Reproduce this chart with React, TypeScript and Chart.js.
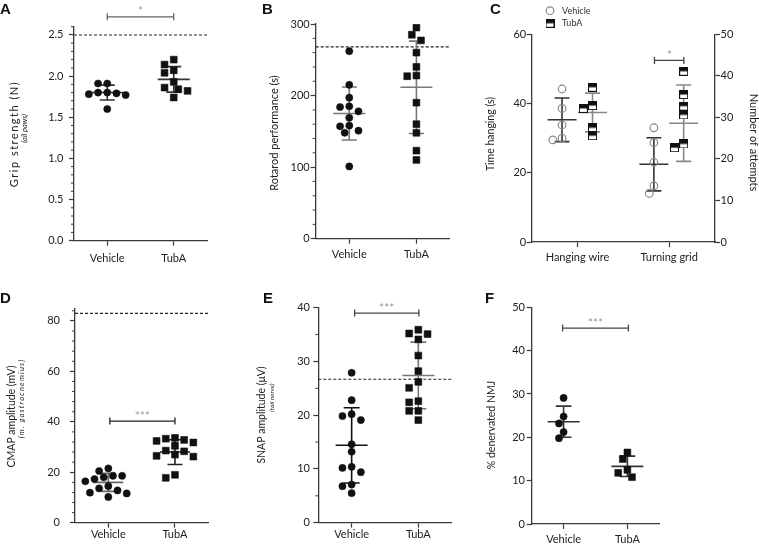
import React, { useEffect, useRef } from "react";
import { Chart, registerables } from "chart.js";

Chart.register(...registerables);

const W = 759;
const H = 544;
const FONT = "Lato, 'Open Sans', 'DejaVu Sans', sans-serif";
const AX = "#3a3a3a";
const TXT = "#222";

// ---------- Panel A: grip strength ----------
const A_CATS = ["Vehicle", "TubA"];
const A_TICKS = [0, 0.5, 1, 1.5, 2, 2.5];
const A_TICK_LABELS = ["0.0", "0.5", "1.0", "1.5", "2.0", "2.5"];
const A_VEHICLE = [1.91, 1.91, 1.8, 1.79, 1.78, 1.8, 1.77, 1.6];
const A_TUBA = [2.2, 2.14, 2.07, 2.04, 1.93, 1.84, 1.86, 1.82, 1.74];
const A_MEANS = [1.8, 1.96];
const A_SDS = [0.09, 0.155];
const A_REF = 2.5;
const A_SIG = 2.72;

// ---------- Panel B: rotarod ----------
const B_CATS = ["Vehicle", "TubA"];
const B_TICKS = [0, 100, 200, 300];
const B_TICK_LABELS = ["0", "100", "200", "300"];
const B_VEHICLE = [262, 215, 197, 184, 185, 178, 169, 158, 157, 148, 151, 101];
const B_TUBA = [295, 285, 277, 260, 240, 228, 227, 190, 160, 148, 123, 110];
const B_MEANS = [175, 211.6];
const B_SDS = [37, 64.5];
const B_REF = 268;

// ---------- Panel C: hanging wire / turning grid ----------
const C_CATS = ["Hanging wire", "Turning grid"];
const C_TICKS = [0, 20, 40, 60];
const C_TICK_LABELS = ["0", "20", "40", "60"];
const C_TICKS_RIGHT = [0, 10, 20, 30, 40, 50];
const C_TICK_LABELS_RIGHT = ["0", "10", "20", "30", "40", "50"];
const C_HW_VEHICLE = [44.2, 38.6, 33.8, 29.5, 30.0];
const C_HW_TUBA = [44.7, 39.4, 38.6, 33.0, 30.7];
const C_TG_VEHICLE = [27.5, 23.9, 19.2, 13.5, 11.7];
const C_TG_TUBA = [41.1, 35.5, 32.7, 30.6, 22.7, 23.6];
const C_HW_MEANS = [35.3, 37.4];
const C_HW_SDS = [6.3, 5.6];
const C_TG_MEANS = [18.7, 28.6];
const C_TG_SDS = [6.4, 9.2];
const C_SIG = 43.7;

// ---------- Panel D: CMAP ----------
const D_CATS = ["Vehicle", "TubA"];
const D_TICKS = [0, 20, 40, 60, 80];
const D_TICK_LABELS = ["0", "20", "40", "60", "80"];
const D_VEHICLE = [21.5, 20.5, 18.0, 18.6, 18.6, 16.4, 17.3, 13.6, 14.5, 12.8, 11.9, 11.6, 10.2];
const D_TUBA = [33.6, 33.3, 32.8, 32.4, 31.8, 30.5, 28.6, 28.3, 27.0, 26.5, 26.2, 19.0, 17.8];
const D_MEANS = [16.0, 28.0];
const D_SDS = [3.6, 4.9];
const D_REF = 83;
const D_SIG = 40.3;

// ---------- Panel E: SNAP ----------
const E_CATS = ["Vehicle", "TubA"];
const E_TICKS = [0, 10, 20, 30, 40];
const E_TICK_LABELS = ["0", "10", "20", "30", "40"];
const E_VEHICLE = [27.9, 22.8, 19.85, 20.2, 19.1, 14.6, 13.2, 10.2, 10.4, 9.4, 7.1, 6.8, 5.5];
const E_TUBA = [35.9, 35.1, 35.2, 34.1, 31.1, 28.2, 26.2, 25.1, 22.6, 22.4, 20.8, 20.8, 19.1];
const E_MEANS = [14.4, 27.4];
const E_SDS = [7.0, 6.2];
const E_REF = 26.7;
const E_SIG = 39;

// ---------- Panel F: denervated NMJ ----------
const F_CATS = ["Vehicle", "TubA"];
const F_TICKS = [0, 10, 20, 30, 40, 50];
const F_TICK_LABELS = ["0", "10", "20", "30", "40", "50"];
const F_VEHICLE = [29.1, 24.8, 23.2, 21.2, 19.8];
const F_TUBA = [16.5, 15.0, 12.5, 11.8, 10.8];
const F_MEANS = [23.6, 13.3];
const F_SDS = [3.6, 2.35];
const F_SIG = 45.2;

type Marker = "dot" | "square" | "ring" | "half";
interface Group {
  cat: number;
  shift: number;
  values: number[];
  mean: number;
  sd: number;
  marker: Marker;
  axis: "y" | "y1";
  bar: string;
}
interface AxisSpec {
  min: number;
  max: number;
  ticks: number[];
  labels: string[];
  minor?: number;
  pad: number;
}
interface Title {
  text: string;
  x: number;
  y: number;
  rot: number;
  size: number;
  italic?: boolean;
  spacing?: number;
}
interface Spec {
  letter: [string, number, number];
  area: { l: number; r: number; t: number; b: number };
  cats: string[];
  xPad: number;
  y: AxisSpec;
  y1?: AxisSpec;
  groups: Group[];
  meanHalf: number;
  capHalf: number;
  ref?: number;
  sig?: { x1: number; x2: number; s1: number; s2: number; v: number; axis: "y" | "y1"; text: string; color: string };
  titles: Title[];
  legend?: boolean;
}

const SPECS: Spec[] = [
  {
    letter: ["A", 0, 13.5],
    area: { l: 74, r: 207, t: 26.7, b: 240.7 },
    cats: A_CATS,
    xPad: 6,
    y: { min: 0, max: 2.6, ticks: A_TICKS, labels: A_TICK_LABELS, minor: 0.1, pad: 5.5 },
    groups: [
      { cat: 1, shift: 0, values: A_VEHICLE, mean: A_MEANS[0], sd: A_SDS[0], marker: "dot", axis: "y", bar: "#333" },
      { cat: 2, shift: 0, values: A_TUBA, mean: A_MEANS[1], sd: A_SDS[1], marker: "square", axis: "y", bar: "#333" },
    ],
    meanHalf: 16,
    capHalf: 7.5,
    ref: A_REF,
    sig: { x1: 1, x2: 2, s1: 0, s2: 0, v: A_SIG, axis: "y", text: "*", color: "#666" },
    titles: [
      { text: "Grip strength (N)", x: 14.5, y: 134, rot: -90, size: 11, spacing: 1.5 },
      { text: "(all paws)", x: 24.5, y: 128.3, rot: -90, size: 7.5, italic: true },
    ],
  },
  {
    letter: ["B", 262, 13.5],
    area: { l: 315.7, r: 450, t: 24, b: 238.7 },
    cats: B_CATS,
    xPad: 4.5,
    y: { min: 0, max: 300, ticks: B_TICKS, labels: B_TICK_LABELS, minor: 20, pad: 1 },
    groups: [
      { cat: 1, shift: 0, values: B_VEHICLE, mean: B_MEANS[0], sd: B_SDS[0], marker: "dot", axis: "y", bar: "#777" },
      { cat: 2, shift: 0, values: B_TUBA, mean: B_MEANS[1], sd: B_SDS[1], marker: "square", axis: "y", bar: "#777" },
    ],
    meanHalf: 16,
    capHalf: 7.5,
    ref: B_REF,
    titles: [{ text: "Rotarod performance (s)", x: 274.5, y: 133, rot: -90, size: 11 }],
  },
  {
    letter: ["C", 490, 13.5],
    area: { l: 531.7, r: 715, t: 34.3, b: 242 },
    cats: C_CATS,
    xPad: 4,
    y: { min: 0, max: 60, ticks: C_TICKS, labels: C_TICK_LABELS, pad: 0.5 },
    y1: { min: 0, max: 50, ticks: C_TICKS_RIGHT, labels: C_TICK_LABELS_RIGHT, pad: 0.5 },
    groups: [
      { cat: 1, shift: -15.5, values: C_HW_VEHICLE, mean: C_HW_MEANS[0], sd: C_HW_SDS[0], marker: "ring", axis: "y", bar: "#333" },
      { cat: 1, shift: 15, values: C_HW_TUBA, mean: C_HW_MEANS[1], sd: C_HW_SDS[1], marker: "half", axis: "y", bar: "#888" },
      { cat: 2, shift: -15.3, values: C_TG_VEHICLE, mean: C_TG_MEANS[0], sd: C_TG_SDS[0], marker: "ring", axis: "y1", bar: "#333" },
      { cat: 2, shift: 14.5, values: C_TG_TUBA, mean: C_TG_MEANS[1], sd: C_TG_SDS[1], marker: "half", axis: "y1", bar: "#888" },
    ],
    meanHalf: 14.5,
    capHalf: 7.5,
    sig: { x1: 2, x2: 2, s1: -14.7, s2: 14.7, v: C_SIG, axis: "y1", text: "*", color: "#444" },
    titles: [
      { text: "Time hanging (s)", x: 490.5, y: 134, rot: -90, size: 10.5 },
      { text: "Number of attempts", x: 753.3, y: 142.5, rot: 90, size: 11 },
    ],
    legend: true,
  },
  {
    letter: ["D", 0, 303],
    area: { l: 75, r: 208.3, t: 308.3, b: 522.7 },
    cats: D_CATS,
    xPad: 0.5,
    y: { min: 0, max: 85, ticks: D_TICKS, labels: D_TICK_LABELS, minor: 4, pad: 10 },
    groups: [
      { cat: 1, shift: 0, values: D_VEHICLE, mean: D_MEANS[0], sd: D_SDS[0], marker: "dot", axis: "y", bar: "#666" },
      { cat: 2, shift: 0, values: D_TUBA, mean: D_MEANS[1], sd: D_SDS[1], marker: "square", axis: "y", bar: "#222" },
    ],
    meanHalf: 15,
    capHalf: 7.5,
    ref: D_REF,
    sig: { x1: 1, x2: 2, s1: 1.5, s2: 0, v: D_SIG, axis: "y", text: "***", color: "#222" },
    titles: [
      { text: "CMAP amplitude (mV)", x: 12, y: 416.5, rot: -90, size: 10.5 },
      { text: "(m. gastrocnemius)", x: 21.5, y: 398.5, rot: -90, size: 7.5, italic: true, spacing: 1.2 },
    ],
  },
  {
    letter: ["E", 263, 303],
    area: { l: 318.3, r: 451.7, t: 307.7, b: 522.7 },
    cats: E_CATS,
    xPad: 0.5,
    y: { min: 0, max: 40, ticks: E_TICKS, labels: E_TICK_LABELS, minor: 5, pad: 3.3 },
    groups: [
      { cat: 1, shift: 0, values: E_VEHICLE, mean: E_MEANS[0], sd: E_SDS[0], marker: "dot", axis: "y", bar: "#111" },
      { cat: 2, shift: 0, values: E_TUBA, mean: E_MEANS[1], sd: E_SDS[1], marker: "square", axis: "y", bar: "#777" },
    ],
    meanHalf: 16,
    capHalf: 8,
    ref: E_REF,
    sig: { x1: 1, x2: 2, s1: 3, s2: 0.5, v: E_SIG, axis: "y", text: "***", color: "#444" },
    titles: [
      { text: "SNAP amplitude (\u03bcV)", x: 262, y: 415, rot: -90, size: 10.5 },
      { text: "(tail nerve)", x: 271.5, y: 397.7, rot: -90, size: 6.5, italic: true },
    ],
  },
  {
    letter: ["F", 485, 303],
    area: { l: 531.7, r: 659.3, t: 307.3, b: 524 },
    cats: F_CATS,
    xPad: 4,
    y: { min: 0, max: 50, ticks: F_TICKS, labels: F_TICK_LABELS, pad: 1.7 },
    groups: [
      { cat: 1, shift: 0, values: F_VEHICLE, mean: F_MEANS[0], sd: F_SDS[0], marker: "dot", axis: "y", bar: "#333" },
      { cat: 2, shift: 0, values: F_TUBA, mean: F_MEANS[1], sd: F_SDS[1], marker: "square", axis: "y", bar: "#333" },
    ],
    meanHalf: 16,
    capHalf: 7.8,
    sig: { x1: 1, x2: 2, s1: -1, s2: 1, v: F_SIG, axis: "y", text: "***", color: "#444" },
    titles: [{ text: "% denervated NMJ", x: 491.5, y: 425, rot: -90, size: 10.5 }],
  },
];

function makeHalfSquare(): HTMLCanvasElement {
  const c = document.createElement("canvas");
  c.width = 9;
  c.height = 9;
  const g = c.getContext("2d")!;
  g.fillStyle = "#fff";
  g.fillRect(0, 0, 9, 9);
  g.fillStyle = "#111";
  g.fillRect(0, 0, 9, 4.5);
  g.strokeStyle = "#111";
  g.lineWidth = 1;
  g.strokeRect(0.5, 0.5, 8, 8);
  return c;
}

// simple deterministic beeswarm (pixel offsets)
function swarm(values: number[], ppu: number, dmin: number, step: number): number[] {
  const idx = values.map((_, i) => i).sort((a, b) => values[b] - values[a]);
  const placed: { x: number; y: number }[] = [];
  const out = values.map(() => 0);
  for (const i of idx) {
    const y = values[i] * ppu;
    for (let k = 0; k < 80; k++) {
      const x = k === 0 ? 0 : (k % 2 ? -1 : 1) * Math.ceil(k / 2) * step;
      if (placed.every((p) => (p.x - x) ** 2 + (p.y - y) ** 2 >= dmin * dmin)) {
        placed.push({ x, y });
        out[i] = x;
        break;
      }
    }
  }
  return out;
}

function axisOptions(a: AxisSpec, position: "left" | "right", width: number) {
  return {
    type: "linear" as const,
    position,
    min: a.min,
    max: a.max,
    afterBuildTicks: (s: any) => {
      s.ticks = a.ticks.map((v) => ({ value: v }));
    },
    afterFit: (s: any) => {
      s.width = width;
      s.paddingTop = 0;
      s.paddingBottom = 0;
    },
    ticks: {
      callback: (v: any) => {
        const i = a.ticks.findIndex((t) => Math.abs(t - v) < 1e-9);
        return i >= 0 ? a.labels[i] : "";
      },
      font: { family: FONT, size: 11 },
      color: TXT,
      padding: a.pad,
    },
    grid: { drawOnChartArea: false, drawTicks: true, tickLength: 5, tickColor: AX, tickWidth: 1.2, color: AX },
    border: { display: true, color: AX, width: 1.3 },
  };
}

function buildConfig(spec: Spec, img: HTMLCanvasElement): any {
  const { l, r, t, b } = spec.area;
  const upp = 2 / (r - l);
  const xH = Math.min(30, H - b);
  const ppuOf = (axis: "y" | "y1") => {
    const a = axis === "y1" && spec.y1 ? spec.y1 : spec.y;
    return (b - t) / (a.max - a.min);
  };
  const datasets: any[] = [];
  for (const g of spec.groups) {
    const ppu = ppuOf(g.axis);
    const offs = swarm(g.values, ppu, 7.5, 4.6);
    const marker: any = {
      dot: { pointStyle: "circle", pointRadius: 3.6, pointBackgroundColor: "#111", pointBorderColor: "#111", pointBorderWidth: 0.5 },
      square: { pointStyle: "rect", pointRadius: 4.8, pointBackgroundColor: "#111", pointBorderColor: "#111", pointBorderWidth: 0.6 },
      ring: { pointStyle: "circle", pointRadius: 3.8, pointBackgroundColor: "rgba(255,255,255,0)", pointBorderColor: "#8a8a8a", pointBorderWidth: 1.2 },
      half: { pointStyle: img, pointRadius: 4.5 },
    }[g.marker];
    datasets.push({
      data: g.values.map((v, i) => ({ x: g.cat + (g.shift + offs[i]) * upp, y: v })),
      yAxisID: g.axis,
      showLine: false,
      order: 0,
      ...marker,
    });
    const cx = g.cat + g.shift * upp;
    const mh = spec.meanHalf * upp;
    const ch = spec.capHalf * upp;
    const hi = g.mean + g.sd;
    const lo = g.mean - g.sd;
    datasets.push({
      data: [
        { x: cx - mh, y: g.mean },
        { x: cx + mh, y: g.mean },
        { x: cx, y: null },
        { x: cx, y: hi },
        { x: cx, y: lo },
        { x: cx, y: null },
        { x: cx - ch, y: hi },
        { x: cx + ch, y: hi },
        { x: cx, y: null },
        { x: cx - ch, y: lo },
        { x: cx + ch, y: lo },
      ],
      yAxisID: g.axis,
      showLine: true,
      spanGaps: false,
      pointRadius: 0,
      borderColor: g.bar,
      borderWidth: 1.6,
      order: 1,
    });
  }
  if (spec.ref !== undefined) {
    datasets.push({
      data: [
        { x: 0.5, y: spec.ref },
        { x: 2.5, y: spec.ref },
      ],
      yAxisID: "y",
      showLine: true,
      pointRadius: 0,
      borderColor: "#222",
      borderWidth: 1.1,
      borderDash: [3, 2],
      order: 2,
    });
  }
  if (spec.sig) {
    const s = spec.sig;
    const e = 3.5 / ppuOf(s.axis);
    const x1 = s.x1 + s.s1 * upp;
    const x2 = s.x2 + s.s2 * upp;
    datasets.push({
      data: [
        { x: x1, y: s.v + e },
        { x: x1, y: s.v - e },
        { x: x1, y: null },
        { x: x1, y: s.v },
        { x: x2, y: s.v },
        { x: x2, y: null },
        { x: x2, y: s.v + e },
        { x: x2, y: s.v - e },
      ],
      yAxisID: s.axis,
      showLine: true,
      spanGaps: false,
      pointRadius: 0,
      borderColor: s.color,
      borderWidth: 1.3,
      clip: false,
      order: 2,
    });
  }

  const scales: any = {
    x: {
      type: "linear",
      position: "bottom",
      min: 0.5,
      max: 2.5,
      afterBuildTicks: (s: any) => {
        s.ticks = [{ value: 1 }, { value: 2 }];
      },
      afterFit: (s: any) => {
        s.height = xH;
        s.paddingLeft = 0;
        s.paddingRight = 0;
      },
      ticks: {
        callback: (v: any) => spec.cats[Math.round(v) - 1] ?? "",
        font: { family: FONT, size: 11 },
        color: TXT,
        padding: spec.xPad,
        maxRotation: 0,
        autoSkip: false,
      },
      grid: { drawOnChartArea: false, drawTicks: true, tickLength: 5, tickColor: AX, tickWidth: 1.2, color: AX },
      border: { display: true, color: AX, width: 1.3 },
    },
    y: axisOptions(spec.y, "left", 50),
  };
  if (spec.y1) scales.y1 = axisOptions(spec.y1, "right", 40);

  const decor = {
    id: "panelDecor",
    afterDraw(chart: any) {
      const ctx = chart.ctx as CanvasRenderingContext2D;
      const area = chart.chartArea;
      const ys = chart.scales.y;
      ctx.save();
      // minor ticks
      if (spec.y.minor) {
        const n = Math.round((spec.y.max - spec.y.min) / spec.y.minor);
        ctx.strokeStyle = AX;
        ctx.lineWidth = 1;
        for (let k = 0; k <= n; k++) {
          const v = spec.y.min + k * spec.y.minor;
          if (spec.y.ticks.some((tv) => Math.abs(tv - v) < 1e-6)) continue;
          const py = ys.getPixelForValue(v);
          ctx.beginPath();
          ctx.moveTo(area.left - 3, py);
          ctx.lineTo(area.left, py);
          ctx.stroke();
        }
      }
      // panel letter
      ctx.fillStyle = "#111";
      ctx.font = "bold 15px 'Liberation Sans', Arial, sans-serif";
      ctx.textAlign = "left";
      ctx.textBaseline = "alphabetic";
      ctx.fillText(spec.letter[0], spec.letter[1], spec.letter[2]);
      // axis titles
      for (const tt of spec.titles) {
        ctx.save();
        ctx.translate(tt.x, tt.y);
        ctx.rotate((tt.rot * Math.PI) / 180);
        ctx.font = `${tt.italic ? "italic " : ""}${tt.size}px ${FONT}`;
        (ctx as any).letterSpacing = `${tt.spacing ?? 0}px`;
        ctx.fillStyle = TXT;
        ctx.textAlign = "center";
        ctx.textBaseline = "middle";
        ctx.fillText(tt.text, 0, 0);
        (ctx as any).letterSpacing = "0px";
        ctx.restore();
      }
      // significance stars
      if (spec.sig) {
        const s = spec.sig;
        const xs = chart.scales.x;
        const sy = chart.scales[s.axis];
        const x1 = xs.getPixelForValue(s.x1 + s.s1 * upp);
        const x2 = xs.getPixelForValue(s.x2 + s.s2 * upp);
        ctx.font = `12px ${FONT}`;
        ctx.fillStyle = "#999";
        ctx.textAlign = "center";
        ctx.textBaseline = "alphabetic";
        ctx.fillText(s.text, (x1 + x2) / 2, sy.getPixelForValue(s.v) - 1.5);
      }
      // legend (panel C)
      if (spec.legend) {
        ctx.beginPath();
        ctx.arc(550, 10.7, 3.8, 0, Math.PI * 2);
        ctx.strokeStyle = "#8a8a8a";
        ctx.lineWidth = 1.2;
        ctx.stroke();
        ctx.drawImage(img, 550 - 4.5, 23.3 - 4.5);
        ctx.font = `9px ${FONT}`;
        ctx.fillStyle = "#333";
        ctx.textAlign = "left";
        ctx.textBaseline = "middle";
        ctx.fillText("Vehicle", 562, 10.7);
        ctx.fillText("TubA", 562, 23.3);
      }
      ctx.restore();
    },
  };

  return {
    type: "scatter",
    data: { datasets },
    options: {
      responsive: false,
      animation: false,
      events: [],
      layout: {
        padding: {
          left: l - 50,
          right: W - r - (spec.y1 ? 40 : 0),
          top: t,
          bottom: H - b - xH,
        },
      },
      plugins: { legend: { display: false }, tooltip: { enabled: false } },
      scales,
    },
    plugins: [decor],
  };
}

export default function App() {
  const refs = useRef<(HTMLCanvasElement | null)[]>([]);
  useEffect(() => {
    const img = makeHalfSquare();
    const charts = SPECS.map((s, i) => new Chart(refs.current[i] as HTMLCanvasElement, buildConfig(s, img)));
    return () => charts.forEach((c) => c.destroy());
  }, []);
  return (
    <div style={{ position: "absolute", left: 0, top: 0, width: W, height: H, background: "#fff", overflow: "hidden" }}>
      {SPECS.map((_, i) => (
        <canvas
          key={i}
          ref={(el) => {
            refs.current[i] = el;
          }}
          width={W}
          height={H}
          style={{ position: "absolute", left: 0, top: 0, width: W, height: H }}
        />
      ))}
    </div>
  );
}
